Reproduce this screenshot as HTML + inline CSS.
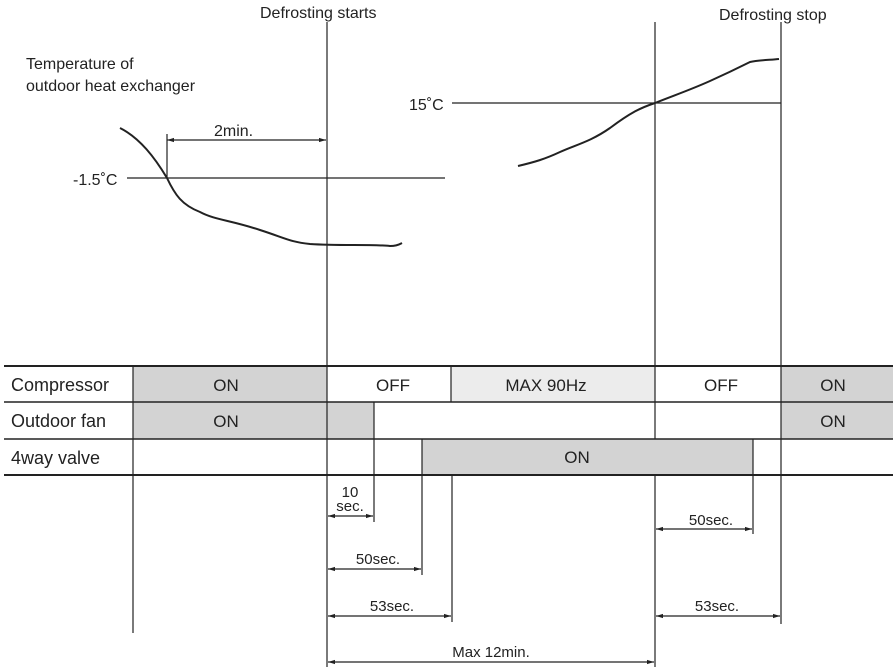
<!DOCTYPE html>
<html><head><meta charset="utf-8"><style>
html,body{margin:0;padding:0;background:#fff}
svg{display:block}
text{font-family:"Liberation Sans",sans-serif;fill:#222}
</style></head><body>
<svg width="893" height="671" viewBox="0 0 893 671" xmlns="http://www.w3.org/2000/svg">
<defs>
<marker id="a" viewBox="0 0 10 10" refX="10" refY="5" markerWidth="9" markerHeight="7" orient="auto-start-reverse" markerUnits="userSpaceOnUse"><path d="M0,2 L10,5 L0,8 z" fill="#222"/></marker>
</defs>
<rect x="133" y="366" width="194" height="36" fill="#d3d3d3"/>
<rect x="451" y="366" width="204" height="36" fill="#ececec"/>
<rect x="781" y="366" width="112" height="36" fill="#d3d3d3"/>
<rect x="133" y="402" width="241" height="37" fill="#d3d3d3"/>
<rect x="781" y="402" width="112" height="37" fill="#d3d3d3"/>
<rect x="422" y="439" width="331" height="36" fill="#d3d3d3"/>
<g stroke="#222" stroke-width="1.2" fill="none">
<line x1="4" y1="366" x2="893" y2="366" stroke-width="2"/>
<line x1="4" y1="402" x2="893" y2="402" stroke-width="1.5"/>
<line x1="4" y1="439" x2="893" y2="439" stroke-width="1.5"/>
<line x1="4" y1="475" x2="893" y2="475" stroke-width="2"/>
<line x1="133" y1="366" x2="133" y2="633"/>
<line x1="327" y1="22" x2="327" y2="667"/>
<line x1="374" y1="402" x2="374" y2="522"/>
<line x1="422" y1="439" x2="422" y2="575"/>
<line x1="451" y1="366" x2="451" y2="402"/>
<line x1="452" y1="475" x2="452" y2="622"/>
<line x1="655" y1="22" x2="655" y2="439"/>
<line x1="655" y1="475" x2="655" y2="667"/>
<line x1="753" y1="439" x2="753" y2="534"/>
<line x1="781" y1="22" x2="781" y2="624"/>
<line x1="127" y1="178" x2="445" y2="178"/>
<line x1="452" y1="103" x2="781" y2="103"/>
<line x1="167" y1="134" x2="167" y2="178"/>
<path d="M120,128 C140,138 155,158 167,178 C175,195 182,205 200,212 C215,220 230,220 260,230 C285,238 290,242 310,244 C340,246 370,244 390,246 C398,246 400,244 402,243" stroke-width="2"/>
<path d="M518,166 C535,162 545,159 560,152 C575,145 590,142 610,128 C630,113 640,108 655,103 C675,95 690,90 710,81 C730,72 740,67 750,62 C760,60 770,60 779,59" stroke-width="2"/>
<line x1="167" y1="140" x2="326" y2="140" marker-start="url(#a)" marker-end="url(#a)"/>
<line x1="328" y1="516" x2="373" y2="516" marker-start="url(#a)" marker-end="url(#a)"/>
<line x1="328" y1="569" x2="421" y2="569" marker-start="url(#a)" marker-end="url(#a)"/>
<line x1="328" y1="616" x2="451" y2="616" marker-start="url(#a)" marker-end="url(#a)"/>
<line x1="328" y1="662" x2="654" y2="662" marker-start="url(#a)" marker-end="url(#a)"/>
<line x1="656" y1="529" x2="752" y2="529" marker-start="url(#a)" marker-end="url(#a)"/>
<line x1="656" y1="616" x2="780" y2="616" marker-start="url(#a)" marker-end="url(#a)"/>
</g>
<g font-size="16">
<text x="260" y="18">Defrosting starts</text>
<text x="719" y="20">Defrosting stop</text>
<text x="26" y="69">Temperature of</text>
<text x="26" y="91">outdoor heat exchanger</text>
<text x="214" y="136">2min.</text>
<text x="73" y="185">-1.5˚C</text>
<text x="409" y="110">15˚C</text>
<text x="11" y="391" font-size="18">Compressor</text>
<text x="11" y="427" font-size="18">Outdoor fan</text>
<text x="11" y="464" font-size="18">4way valve</text>
<text x="226" y="391" text-anchor="middle" font-size="17">ON</text>
<text x="393" y="391" text-anchor="middle" font-size="17">OFF</text>
<text x="546" y="391" text-anchor="middle" font-size="17">MAX 90Hz</text>
<text x="721" y="391" text-anchor="middle" font-size="17">OFF</text>
<text x="833" y="391" text-anchor="middle" font-size="17">ON</text>
<text x="226" y="427" text-anchor="middle" font-size="17">ON</text>
<text x="833" y="427" text-anchor="middle" font-size="17">ON</text>
<text x="577" y="463" text-anchor="middle" font-size="17">ON</text>
<text x="350" y="497" text-anchor="middle" font-size="15">10</text>
<text x="350" y="511" text-anchor="middle" font-size="15">sec.</text>
<text x="378" y="564" text-anchor="middle" font-size="15">50sec.</text>
<text x="392" y="611" text-anchor="middle" font-size="15">53sec.</text>
<text x="491" y="657" text-anchor="middle" font-size="15">Max 12min.</text>
<text x="711" y="525" text-anchor="middle" font-size="15">50sec.</text>
<text x="717" y="611" text-anchor="middle" font-size="15">53sec.</text>
</g>
</svg>
</body></html>
